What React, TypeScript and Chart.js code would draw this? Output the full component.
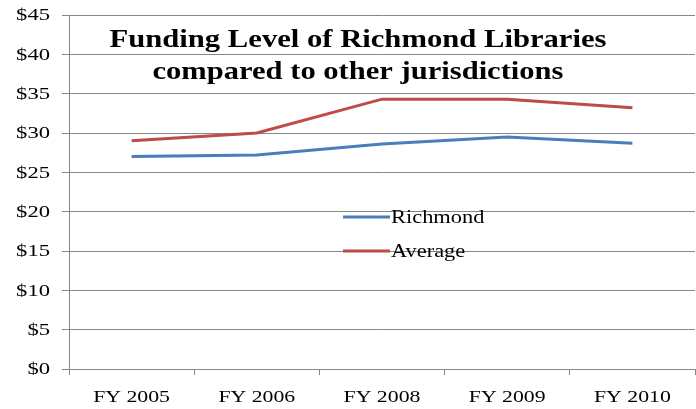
import React, { useEffect, useRef } from "react";
import { Chart, registerables } from "chart.js";

Chart.register(...registerables);

const categories = ["FY 2005", "FY 2006", "FY 2008", "FY 2009", "FY 2010"];
const richmond = [27.0, 27.2, 28.6, 29.5, 28.7];
const average = [29.0, 30.0, 34.3, 34.3, 33.2];
const seriesNames = ["Richmond", "Average"];
const seriesColors = ["#4A7EBB", "#BE4B48"];
const titleLines = ["Funding Level of Richmond Libraries", "compared to other jurisdictions"];
const yMin = 0;
const yMax = 45;
const yStep = 5;

const SERIF = '"Liberation Serif", "Times New Roman", serif';
const SX = 1.33;
const GRID = "#868686";

function drawStretched(ctx: CanvasRenderingContext2D, text: string, x: number, y: number, align: "left" | "right" | "center", sx: number) {
  const w = ctx.measureText(text).width * sx;
  let left = x;
  if (align === "right") left = x - w;
  else if (align === "center") left = x - w / 2;
  ctx.save();
  ctx.translate(left, y);
  ctx.scale(sx, 1);
  ctx.textAlign = "left";
  ctx.fillText(text, 0, 0);
  ctx.restore();
}

const textPlugin = {
  id: "customText",
  afterDraw(chart: any) {
    const ctx: CanvasRenderingContext2D = chart.ctx;
    const ys = chart.scales.y;
    const xs = chart.scales.x;
    ctx.save();
    ctx.fillStyle = "#000";
    ctx.textBaseline = "middle";
    // y tick labels
    ctx.font = `17px ${SERIF}`;
    ys.ticks.forEach((t: any, i: number) => {
      const py = ys.getPixelForTick(i);
      drawStretched(ctx, "$" + t.value, 50, py + 1, "right", SX);
    });
    // x tick labels
    categories.forEach((_, i) => {
      const px = xs.getPixelForTick(i);
      drawStretched(ctx, xs.getLabelForValue(i), px, 398, "center", 1.28);
    });
    // legend
    chart.data.datasets.forEach((ds: any, i: number) => {
      const ly = 217 + i * 34;
      ctx.strokeStyle = ds.borderColor;
      ctx.lineWidth = 3;
      ctx.beginPath();
      ctx.moveTo(343, ly);
      ctx.lineTo(390, ly);
      ctx.stroke();
      ctx.font = `19px ${SERIF}`;
      drawStretched(ctx, ds.label, 391, ly + 1, "left", 1.18);
    });
    // title
    ctx.font = `bold 26px ${SERIF}`;
    ctx.textBaseline = "alphabetic";
    const widths = [497, 411];
    titleLines.forEach((line, i) => {
      const m = ctx.measureText(line).width;
      const sx = widths[i] / m;
      drawStretched(ctx, line, 358, 47 + i * 32, "center", sx);
    });
    ctx.restore();
  },
};

export default function App() {
  const ref = useRef<HTMLCanvasElement | null>(null);
  useEffect(() => {
    if (!ref.current) return;
    const chart = new Chart(ref.current, {
      type: "line",
      data: {
        labels: categories,
        datasets: [
          { label: seriesNames[0], data: richmond, borderColor: seriesColors[0], backgroundColor: seriesColors[0], borderWidth: 3, pointRadius: 0, tension: 0 },
          { label: seriesNames[1], data: average, borderColor: seriesColors[1], backgroundColor: seriesColors[1], borderWidth: 3, pointRadius: 0, tension: 0 },
        ],
      },
      options: {
        animation: false,
        responsive: false,
        maintainAspectRatio: false,
        layout: { padding: { top: 15, right: 1, left: 0, bottom: 0 } },
        plugins: { legend: { display: false }, title: { display: false }, tooltip: { enabled: false } },
        scales: {
          x: {
            offset: true,
            grid: { offset: true, drawOnChartArea: false, drawTicks: true, tickLength: 6, color: GRID, lineWidth: 1 },
            border: { color: GRID, width: 1 },
            ticks: { color: "rgba(0,0,0,0)", font: { size: 16 } },
            afterFit: (s: any) => { s.height = 40; },
          },
          y: {
            min: yMin,
            max: yMax,
            grid: { color: GRID, lineWidth: 1, tickLength: 7, drawTicks: true },
            border: { color: GRID, width: 1 },
            ticks: { stepSize: yStep, color: "rgba(0,0,0,0)", font: { size: 16 } },
            afterFit: (s: any) => { s.width = 69; },
          },
        },
      },
      plugins: [textPlugin],
    });
    return () => chart.destroy();
  }, []);
  return (
    <div style={{ position: "fixed", left: 0, top: 0, width: 696, height: 409, background: "#fff" }}>
      <canvas ref={ref} width={696} height={409} style={{ width: 696, height: 409, display: "block" }} />
    </div>
  );
}
